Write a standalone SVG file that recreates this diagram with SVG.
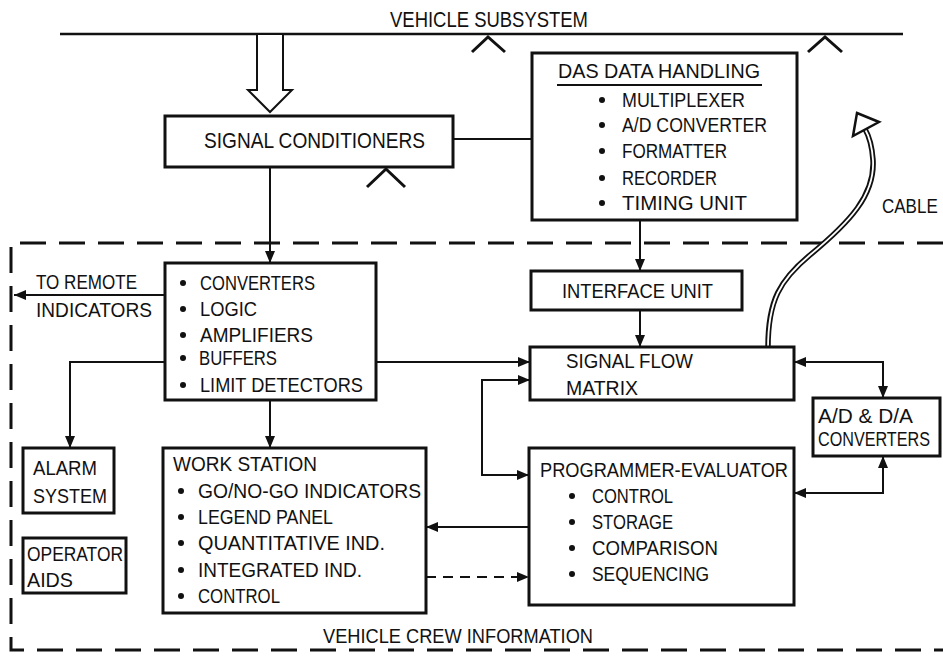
<svg xmlns="http://www.w3.org/2000/svg" width="943" height="658" viewBox="0 0 943 658">
<style>
.t{font-family:"Liberation Sans",Arial,sans-serif;font-size:21px;fill:#111}
.big{font-size:22px}
.box{fill:#fff;stroke:#111;stroke-width:3}
.ln{fill:none;stroke:#111;stroke-width:2}
.chev{fill:none;stroke:#111;stroke-width:3}
.dot{fill:#111}
</style>
<defs>
<marker id="ah" markerUnits="userSpaceOnUse" markerWidth="14" markerHeight="12" refX="12" refY="5" orient="auto-start-reverse">
<path d="M0,0 L12,5 L0,10 z" fill="#111"/>
</marker>
</defs>
<rect width="943" height="658" fill="#fff"/>

<g id="bus">
<path d="M60,34 H903" stroke="#111" stroke-width="2.5" fill="none"/>
<text class="t big" x="390" y="27" textLength="198" lengthAdjust="spacingAndGlyphs">VEHICLE SUBSYSTEM</text>
<polyline class="chev" points="472,52 488,37 505,52"/>
<polyline class="chev" points="808,52 825,37 842,52"/>
</g>

<g id="boundary">
<path d="M943,243 H11 V650 H943" fill="none" stroke="#111" stroke-width="3" stroke-dasharray="26 13"/>
<text class="t" x="323" y="643" textLength="270" lengthAdjust="spacingAndGlyphs">VEHICLE CREW INFORMATION</text>
</g>

<g id="connectors">
<polygon points="257,34 257,90 248,90 270,112 292,90 283,90 283,34" fill="#fff" stroke="#111" stroke-width="2"/>
<path class="ln" d="M270,167 V263" marker-end="url(#ah)"/>
<path class="ln" d="M165,295 H14" marker-end="url(#ah)"/>
<path class="ln" d="M165,362 H70 V448" marker-end="url(#ah)"/>
<path class="ln" d="M376,362 H530" marker-end="url(#ah)"/>
<path class="ln" d="M270,400 V448" marker-end="url(#ah)"/>
<path class="ln" d="M453,139 H532"/>
<path class="ln" d="M640,220 V271" marker-end="url(#ah)"/>
<path class="ln" d="M640,310 V347" marker-end="url(#ah)"/>
<path class="ln" d="M529,475 H482 V380 H530" marker-start="url(#ah)" marker-end="url(#ah)"/>
<path class="ln" d="M794,362 H883 V398" marker-start="url(#ah)" marker-end="url(#ah)"/>
<path class="ln" d="M794,493 H883 V456" marker-start="url(#ah)" marker-end="url(#ah)"/>
<path class="ln" d="M529,527 H426" marker-end="url(#ah)"/>
<path class="ln" d="M426,577 H529" stroke-dasharray="10 7" marker-end="url(#ah)"/>
<path d="M768,347 C768,300 780,280 810,255 C850,222 875,195 873,160 C872,145 869,136 865,129" fill="none" stroke="#111" stroke-width="5.5"/>
<path d="M768,349 C768,300 780,280 810,255 C850,222 875,195 873,160 C872,145 869,136 865,129" fill="none" stroke="#fff" stroke-width="1.8"/>
<polygon points="857,113 879,122 853,136" fill="#fff" stroke="#111" stroke-width="2.5" stroke-linejoin="miter"/>
<text class="t" transform="translate(882,213) scale(0.81,1)">CABLE</text>
<text class="t" x="36" y="289" textLength="101" lengthAdjust="spacingAndGlyphs">TO REMOTE</text>
<text class="t" x="36" y="317" textLength="116" lengthAdjust="spacingAndGlyphs">INDICATORS</text>
</g>

<g id="signal-conditioners">
<rect class="box" x="165" y="116" width="288" height="51"/>
<text class="t big" x="204" y="148" textLength="221" lengthAdjust="spacingAndGlyphs">SIGNAL CONDITIONERS</text>
<polyline class="chev" points="367,187 386,169 405,187"/>
</g>

<g id="das">
<rect class="box" x="532" y="53" width="265" height="167"/>
<text class="t" x="558" y="78" textLength="202" lengthAdjust="spacingAndGlyphs">DAS DATA HANDLING</text>
<path d="M557,85 H762" stroke="#111" stroke-width="2"/>
<circle class="dot" cx="602" cy="100" r="3"/>
<text class="t" x="622" y="107" textLength="123" lengthAdjust="spacingAndGlyphs">MULTIPLEXER</text>
<circle class="dot" cx="602" cy="125" r="3"/>
<text class="t" x="622" y="132" textLength="145" lengthAdjust="spacingAndGlyphs">A/D CONVERTER</text>
<circle class="dot" cx="602" cy="151" r="3"/>
<text class="t" x="622" y="158" textLength="105" lengthAdjust="spacingAndGlyphs">FORMATTER</text>
<circle class="dot" cx="602" cy="178" r="3"/>
<text class="t" x="622" y="185" textLength="95" lengthAdjust="spacingAndGlyphs">RECORDER</text>
<circle class="dot" cx="602" cy="203" r="3"/>
<text class="t" x="622" y="210" textLength="125" lengthAdjust="spacingAndGlyphs">TIMING UNIT</text>
</g>

<g id="converters">
<rect class="box" x="165" y="263" width="211" height="137"/>
<circle class="dot" cx="183" cy="283" r="3"/>
<text class="t" x="200" y="290" textLength="115" lengthAdjust="spacingAndGlyphs">CONVERTERS</text>
<circle class="dot" cx="183" cy="309" r="3"/>
<text class="t" x="200" y="316" textLength="57" lengthAdjust="spacingAndGlyphs">LOGIC</text>
<circle class="dot" cx="183" cy="335" r="3"/>
<text class="t" x="200" y="342" textLength="113" lengthAdjust="spacingAndGlyphs">AMPLIFIERS</text>
<circle class="dot" cx="183" cy="358" r="3"/>
<text class="t" x="199" y="365" textLength="78" lengthAdjust="spacingAndGlyphs">BUFFERS</text>
<circle class="dot" cx="183" cy="385" r="3"/>
<text class="t" x="200" y="392" textLength="163" lengthAdjust="spacingAndGlyphs">LIMIT DETECTORS</text>
</g>

<g id="interface-unit">
<rect class="box" x="531" y="271" width="211" height="39"/>
<text class="t" x="562" y="298" textLength="151" lengthAdjust="spacingAndGlyphs">INTERFACE UNIT</text>
</g>

<g id="signal-flow-matrix">
<rect class="box" x="530" y="347" width="264" height="53"/>
<text class="t" x="566" y="368" textLength="127" lengthAdjust="spacingAndGlyphs">SIGNAL FLOW</text>
<text class="t" x="566" y="395" textLength="72" lengthAdjust="spacingAndGlyphs">MATRIX</text>
</g>

<g id="ad-da-converters">
<rect class="box" x="813" y="398" width="127" height="58"/>
<text class="t" x="818" y="423" textLength="95" lengthAdjust="spacingAndGlyphs">A/D &amp; D/A</text>
<text class="t" transform="translate(818,446) scale(0.77,1)">CONVERTERS</text>
</g>

<g id="alarm-system">
<rect class="box" x="23" y="448" width="91" height="65"/>
<text class="t" x="33" y="475" textLength="64" lengthAdjust="spacingAndGlyphs">ALARM</text>
<text class="t" x="33" y="503" textLength="74" lengthAdjust="spacingAndGlyphs">SYSTEM</text>
</g>

<g id="operator-aids">
<rect class="box" x="23" y="538" width="103" height="55"/>
<text class="t" x="27" y="561" textLength="96" lengthAdjust="spacingAndGlyphs">OPERATOR</text>
<text class="t" x="27" y="587" textLength="46" lengthAdjust="spacingAndGlyphs">AIDS</text>
</g>

<g id="work-station">
<rect class="box" x="163" y="448" width="263" height="165"/>
<text class="t" x="173" y="471" textLength="144" lengthAdjust="spacingAndGlyphs">WORK STATION</text>
<circle class="dot" cx="181" cy="491" r="3"/>
<text class="t" x="198" y="498" textLength="223" lengthAdjust="spacingAndGlyphs">GO/NO-GO INDICATORS</text>
<circle class="dot" cx="181" cy="517" r="3"/>
<text class="t" x="198" y="524" textLength="135" lengthAdjust="spacingAndGlyphs">LEGEND PANEL</text>
<circle class="dot" cx="181" cy="543" r="3"/>
<text class="t" x="198" y="550" textLength="187" lengthAdjust="spacingAndGlyphs">QUANTITATIVE IND.</text>
<circle class="dot" cx="181" cy="570" r="3"/>
<text class="t" x="198" y="577" textLength="164" lengthAdjust="spacingAndGlyphs">INTEGRATED IND.</text>
<circle class="dot" cx="181" cy="596" r="3"/>
<text class="t" x="198" y="603" textLength="82" lengthAdjust="spacingAndGlyphs">CONTROL</text>
</g>

<g id="programmer-evaluator">
<rect class="box" x="529" y="448" width="265" height="157"/>
<text class="t" x="540" y="477" textLength="248" lengthAdjust="spacingAndGlyphs">PROGRAMMER-EVALUATOR</text>
<circle class="dot" cx="572" cy="496" r="3"/>
<text class="t" x="592" y="503" textLength="81" lengthAdjust="spacingAndGlyphs">CONTROL</text>
<circle class="dot" cx="572" cy="522" r="3"/>
<text class="t" x="592" y="529" textLength="81" lengthAdjust="spacingAndGlyphs">STORAGE</text>
<circle class="dot" cx="572" cy="548" r="3"/>
<text class="t" x="592" y="555" textLength="126" lengthAdjust="spacingAndGlyphs">COMPARISON</text>
<circle class="dot" cx="572" cy="574" r="3"/>
<text class="t" x="592" y="581" textLength="117" lengthAdjust="spacingAndGlyphs">SEQUENCING</text>
</g>
</svg>
